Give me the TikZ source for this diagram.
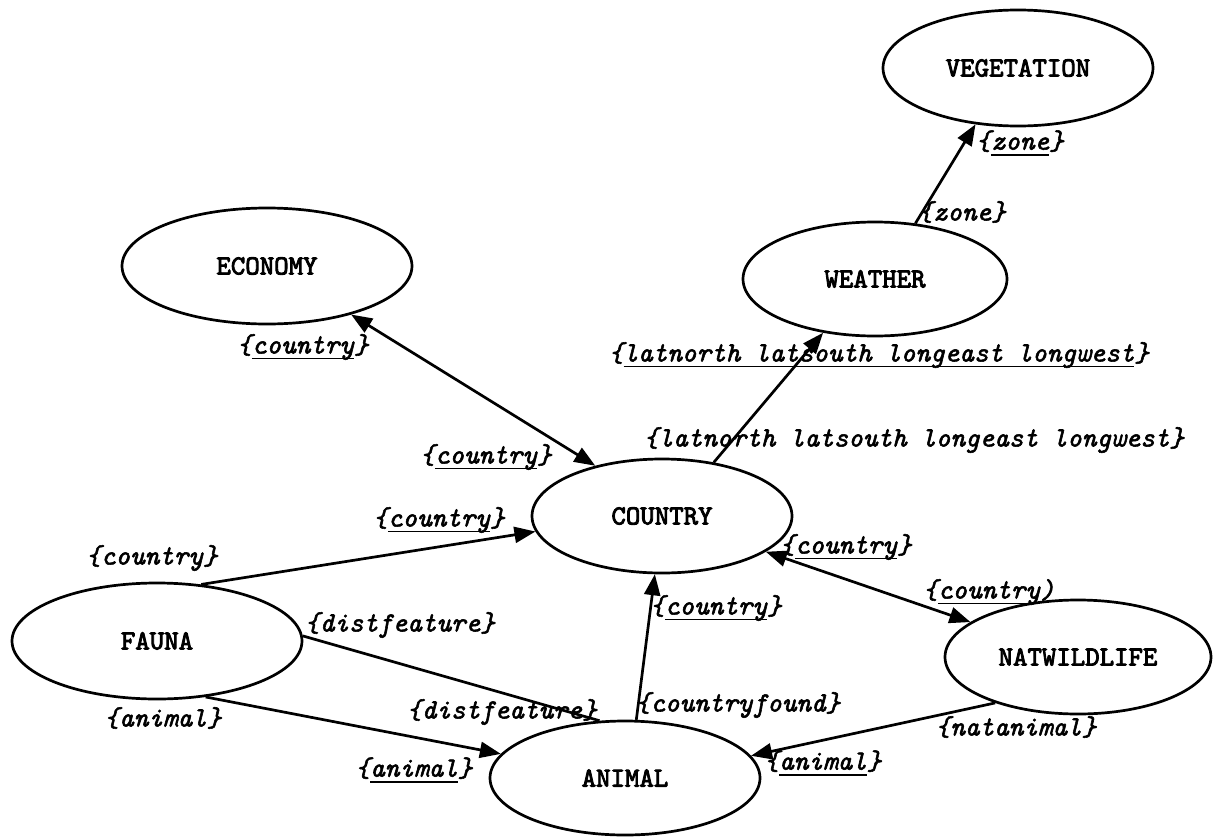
\documentclass[tikz,border=0pt]{standalone}
\usepackage{fontspec}
\newfontfamily\entfont{lmmono10-regular.otf}[FakeBold=3.2]
\newfontfamily\lblfont{lmmono10-italic.otf}[FakeBold=2]
\usetikzlibrary{shapes.geometric,arrows.meta}
\newlength\ulw
\newcommand\myul[1]{\settowidth\ulw{#1}\rlap{\rule[-6pt]{\ulw}{1.9pt}}#1}
\begin{document}
\begin{tikzpicture}[x=1pt,y=-1pt,
  ent/.style={draw, ellipse, line width=2.7pt, inner sep=0pt,
    font=\entfont\fontsize{27.5}{29}\selectfont},
  lbl/.style={inner sep=0pt, font=\lblfont\fontsize{27.8}{29}\selectfont},
  conn/.style={line width=2.7pt},
  arr/.style={conn, -{Triangle[length=21pt,width=16pt]}},
  darr/.style={conn, {Triangle[length=21pt,width=16pt]}-{Triangle[length=21pt,width=16pt]}}]
\useasboundingbox (0,0) rectangle (1213,838);

% entities
\node[ent, minimum width=270pt, minimum height=116pt] (veg) at (1018,68) {VEGETATION};
\node[ent, minimum width=264pt, minimum height=114pt] (wea) at (875,279) {WEATHER};
\node[ent, minimum width=290pt, minimum height=116pt] (eco) at (267,266) {ECONOMY};
\node[ent, minimum width=260pt, minimum height=114pt] (cou) at (662,516) {COUNTRY};
\node[ent, minimum width=290pt, minimum height=116pt] (fau) at (157,641) {FAUNA};
\node[ent, minimum width=270pt, minimum height=114pt] (ani) at (625,778) {ANIMAL};
\node[ent, minimum width=266pt, minimum height=114pt] (nat) at (1078,657) {NATWILDLIFE};

% connectors
\draw[arr] (wea.54.9) -- (veg.233);
\draw[arr] (cou.46.6) -- (wea.226);
\draw[darr] (eco.330.3) -- (cou.143.9);
\draw[arr] (fau.52.5) -- (cou.187.8);
\draw[conn] (fau.2.4) -- (ani.114.7);
\draw[arr] (fau.311.3) -- (ani.169.4);
\draw[arr] (ani.79) -- (cou.263);
\draw[darr] (cou.341.6) -- (nat.162.5);
\draw[arr] (nat.209.6) -- (ani.10.7);

% labels
\node[lbl] (z1) at (1020,143) {\{\myul{zone}\}};
\node[lbl] (z2) at (962,212) {\{zone\}};
\node[lbl] (ll1) at (879,355) {\{\myul{latnorth latsouth longeast longwest}\}};
\node[lbl] (ll2) at (914,440) {\{latnorth latsouth longeast longwest\}};
\node[lbl] (c1) at (303,347) {\{\myul{country}\}};
\node[lbl] (c2) at (486,457) {\{\myul{country}\}};
\node[lbl] (c3) at (439,520) {\{\myul{country}\}};
\node[lbl] (c4) at (152,558) {\{country\}};
\node[lbl] (d1) at (400,625) {\{distfeature\}};
\node[lbl] (d2) at (502,712) {\{distfeature\}};
\node[lbl] (a1) at (163,718) {\{animal\}};
\node[lbl] (a2) at (414,770) {\{\myul{animal}\}};
\node[lbl] (c5) at (716,608) {\{\myul{country}\}};
\node[lbl] (cf) at (738,705) {\{countryfound\}};
\node[lbl] (c6) at (846,547) {\{\myul{country}\}};
\node[lbl] (c7) at (989,592) {\{\myul{country})};
\node[lbl] (na) at (1016,727) {\{natanimal\}};
\node[lbl] (a3) at (823,763) {\{\myul{animal}\}};
\end{tikzpicture}
\end{document}
